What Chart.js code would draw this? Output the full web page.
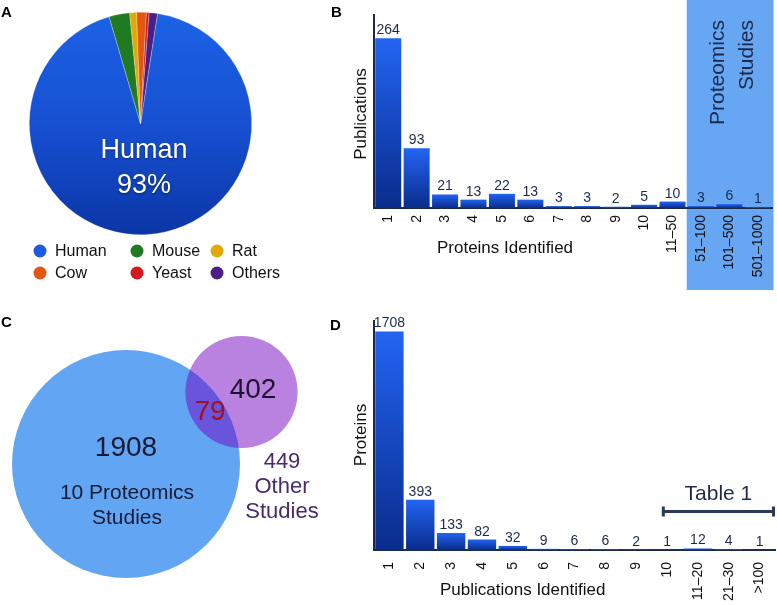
<!DOCTYPE html>
<html><head><meta charset="utf-8">
<script src="https://cdn.jsdelivr.net/npm/chart.js@4/dist/chart.umd.min.js"></script>
<style>
html,body{margin:0;padding:0;background:#fff;}
body{width:777px;height:605px;position:relative;overflow:hidden;}
canvas{position:absolute;}
</style></head>
<body>
<canvas id="cA" width="325" height="300" style="left:0;top:0"></canvas>
<canvas id="cB" width="452" height="300" style="left:325px;top:0"></canvas>
<canvas id="cC" width="325" height="305" style="left:0;top:300px"></canvas>
<canvas id="cD" width="452" height="305" style="left:325px;top:300px"></canvas>
<script>
// ---------- DATA ----------
const species = ['Human','Mouse','Rat','Cow','Yeast','Others'];
const speciesShare = [93, 3.0, 1.0, 1.4, 0.4, 1.2];

const proteinsIdentified = ['1','2','3','4','5','6','7','8','9','10','11\u201350','51\u2013100','101\u2013500','501\u20131000'];
const publicationsCount = [264, 93, 21, 13, 22, 13, 3, 3, 2, 5, 10, 3, 6, 1];
const proteomicsCategories = ['51\u2013100','101\u2013500','501\u20131000'];

const vennSets = ['10 Proteomics Studies', '449 Other Studies'];
const vennOnlyProteomics = 1908;
const vennOverlap = 79;
const vennOnlyOther = 402;

const publicationsIdentified = ['1','2','3','4','5','6','7','8','9','10','11\u201320','21\u201330','>100'];
const proteinsCount = [1708, 393, 133, 82, 32, 9, 6, 6, 2, 1, 12, 4, 1];
const table1Categories = ['10','11\u201320','21\u201330','>100'];

// ---------- STYLE ----------
const FONT = '"Liberation Sans", Arial, Helvetica, sans-serif';
const NAVY = '#1b2a4c';
const speciesColors = ['#1a5be0','#1f7a22','#e2a808','#e2560e','#d4181c','#4a1f86'];

Chart.defaults.font.family = FONT;
Chart.defaults.animation = false;
Chart.defaults.events = [];
Chart.defaults.plugins.legend.display = false;
Chart.defaults.plugins.tooltip.enabled = false;

function panelLabel(ctx, t, x, y){
  ctx.save(); ctx.font = 'bold 15px ' + FONT; ctx.fillStyle = '#000';
  ctx.textAlign = 'left'; ctx.textBaseline = 'alphabetic'; ctx.fillText(t, x, y); ctx.restore();
}
function txt(ctx, t, x, y, font, color, align, rot){
  ctx.save(); ctx.font = font; ctx.fillStyle = color; ctx.textAlign = align || 'center';
  ctx.textBaseline = 'middle'; ctx.translate(x, y); if (rot) ctx.rotate(rot); ctx.fillText(t, 0, 0); ctx.restore();
}

// ---------- PANEL A ----------
new Chart(document.getElementById('cA'), {
  type: 'pie',
  data: { labels: species, datasets: [{
    data: speciesShare,
    backgroundColor: (c) => {
      if (c.dataIndex === 0 && c.chart.chartArea) {
        const a = c.chart.chartArea;
        const g = c.chart.ctx.createLinearGradient(0, a.top, 0, a.bottom);
        g.addColorStop(0, '#1c62e6'); g.addColorStop(0.5, '#1750d2'); g.addColorStop(1, '#0b36a6');
        return g;
      }
      return speciesColors[c.dataIndex];
    },
    borderColor: 'rgba(255,255,255,0.45)', borderWidth: 0.6
  }]},
  options: {
    responsive: false, rotation: 8.8,
    layout: { padding: { left: 29, top: 12, right: 73, bottom: 65 } }
  },
  plugins: [{
    id: 'aText',
    afterDraw(chart){
      const ctx = chart.ctx;
      panelLabel(ctx, 'A', 1, 17);
      ctx.save();
      ctx.shadowColor = 'rgba(0,0,0,0.45)'; ctx.shadowBlur = 2; ctx.shadowOffsetY = 1;
      txt(ctx, species[0], 144, 151, '27px ' + FONT, '#fff');
      txt(ctx, speciesShare[0] + '%', 144, 186, '27px ' + FONT, '#fff');
      ctx.restore();
      const cols = [40, 137, 217], rows = [251, 273];
      species.forEach((s, i) => {
        const x = cols[i % 3], y = rows[Math.floor(i / 3)];
        ctx.save();
        ctx.beginPath(); ctx.arc(x, y, 6.5, 0, Math.PI * 2);
        ctx.fillStyle = speciesColors[i]; ctx.fill(); ctx.restore();
        txt(ctx, s, x + 15, y + 1, '16px ' + FONT, '#111', 'left');
      });
    }
  }]
});

// ---------- shared bar helpers ----------
function barFill(c){
  const chart = c.chart, y = chart.scales.y;
  if (!chart.chartArea || !y) return '#1a50c8';
  const top = y.getPixelForValue(c.raw), base = y.getPixelForValue(0);
  const g = chart.ctx.createLinearGradient(0, top, 0, base);
  g.addColorStop(0, '#2264f2'); g.addColorStop(1, '#0a2c8c');
  return g;
}
const valueLabels = {
  id: 'valueLabels',
  afterDatasetsDraw(chart){
    const ctx = chart.ctx, ds = chart.data.datasets[0];
    chart.getDatasetMeta(0).data.forEach((el, i) => {
      ctx.save(); ctx.font = '14px ' + FONT; ctx.fillStyle = NAVY;
      ctx.textAlign = 'center'; ctx.textBaseline = 'alphabetic';
      ctx.fillText(String(ds.data[i]), el.x, el.y - 4); ctx.restore();
    });
  }
};
function barOptions(yMax, padTop, padRight, yW, xH, tickPad){
  return {
    responsive: false,
    layout: { padding: { top: padTop, right: padRight, left: 0, bottom: 0 } },
    scales: {
      x: {
        grid: { display: false, drawTicks: false },
        border: { display: true, color: NAVY, width: 2 },
        ticks: { minRotation: 90, maxRotation: 90, autoSkip: false, padding: tickPad,
                 font: { size: 14, family: FONT }, color: '#111' },
        afterFit: (s) => { s.height = xH; s.paddingLeft = 0; s.paddingRight = 0; }
      },
      y: {
        min: 0, max: yMax,
        grid: { display: false, drawTicks: false },
        border: { display: true, color: NAVY, width: 2 },
        ticks: { display: false },
        afterFit: (s) => { s.width = yW; s.paddingTop = 0; s.paddingBottom = 0; }
      }
    }
  };
}

// ---------- PANEL B ----------
new Chart(document.getElementById('cB'), {
  type: 'bar',
  data: { labels: proteinsIdentified, datasets: [{
    data: publicationsCount, backgroundColor: barFill,
    barPercentage: 0.915, categoryPercentage: 1
  }]},
  options: barOptions(300, 15, 5, 49, 92, 7),
  plugins: [{
    id: 'bBox',
    beforeDraw(chart){
      const ctx = chart.ctx, x = chart.scales.x, a = chart.chartArea;
      const i0 = proteinsIdentified.indexOf(proteomicsCategories[0]);
      const step = a.width / proteinsIdentified.length;
      const left = x.getPixelForValue(i0) - step / 2;
      ctx.save(); ctx.fillStyle = '#67a6f2';
      ctx.fillRect(left, 0, a.right + 1.5 - left, 290); ctx.restore();
    },
    afterDraw(chart){
      const ctx = chart.ctx;
      panelLabel(ctx, 'B', 6, 17);
      txt(ctx, 'Publications', 36.7, 114, '17px ' + FONT, '#111', 'center', -Math.PI / 2);
      txt(ctx, 'Proteins Identified', 180, 248, '17px ' + FONT, '#111', 'center');
      txt(ctx, 'Proteomics', 393, 20, '21px ' + FONT, NAVY, 'right', -Math.PI / 2);
      txt(ctx, 'Studies', 422, 20, '21px ' + FONT, NAVY, 'right', -Math.PI / 2);
    }
  }, valueLabels]
});

// ---------- PANEL C ----------
const vennK = 2.557; // px per sqrt(count)
const vennLayout = [{ x: 126, y: 164 }, { x: 241.5, y: 92 }];
new Chart(document.getElementById('cC'), {
  type: 'bubble',
  data: { labels: vennSets, datasets: [{
    data: [
      { x: vennLayout[0].x, y: vennLayout[0].y, r: vennK * Math.sqrt(vennOnlyProteomics + vennOverlap) },
      { x: vennLayout[1].x, y: vennLayout[1].y, r: vennK * Math.sqrt(vennOnlyOther + vennOverlap) }
    ],
    backgroundColor: ['#62a5f3', 'rgba(112,0,194,0.49)'],
    borderWidth: 0, clip: false
  }]},
  options: {
    responsive: false,
    layout: { padding: 0, autoPadding: false },
    scales: {
      x: { display: false, min: 0, max: 325 },
      y: { display: false, min: 0, max: 305, reverse: true }
    }
  },
  plugins: [{
    id: 'cText',
    afterDraw(chart){
      const ctx = chart.ctx;
      panelLabel(ctx, 'C', 1, 27);
      const dark = '#141a33';
      txt(ctx, String(vennOnlyProteomics), 126, 148, '28px ' + FONT, dark);
      txt(ctx, '10 Proteomics', 127, 193, '21px ' + FONT, dark);
      txt(ctx, 'Studies', 127, 218, '21px ' + FONT, dark);
      txt(ctx, String(vennOverlap), 210, 112, '28px ' + FONT, '#a3101e');
      txt(ctx, String(vennOnlyOther), 253, 90, '28px ' + FONT, '#1f1030');
      const pur = '#4a2a6c';
      txt(ctx, '449', 282, 162, '22px ' + FONT, pur);
      txt(ctx, 'Other', 282, 187, '22px ' + FONT, pur);
      txt(ctx, 'Studies', 282, 212, '22px ' + FONT, pur);
    }
  }]
});

// ---------- PANEL D ----------
new Chart(document.getElementById('cD'), {
  type: 'bar',
  data: { labels: publicationsIdentified, datasets: [{
    data: proteinsCount, backgroundColor: barFill,
    barPercentage: 0.92, categoryPercentage: 1
  }]},
  options: barOptions(1790, 21, 2, 49, 55, 12),
  plugins: [{
    id: 'dText',
    afterDraw(chart){
      const ctx = chart.ctx, x = chart.scales.x, a = chart.chartArea;
      panelLabel(ctx, 'D', 5, 30);
      txt(ctx, 'Proteins', 36.7, 135, '17px ' + FONT, '#111', 'center', -Math.PI / 2);
      txt(ctx, 'Publications Identified', 197.7, 290, '17px ' + FONT, '#111', 'center');
      const i0 = publicationsIdentified.indexOf(table1Categories[0]);
      const step = a.width / publicationsIdentified.length;
      const left = x.getPixelForValue(i0) - step * 0.17;
      const right = a.right;
      const yb = 211.5;
      ctx.save(); ctx.strokeStyle = '#2b3a58'; ctx.lineWidth = 3;
      ctx.beginPath();
      ctx.moveTo(left, yb); ctx.lineTo(right, yb);
      ctx.moveTo(left + 1.5, yb - 5); ctx.lineTo(left + 1.5, yb + 5);
      ctx.moveTo(right - 1.5, yb - 5); ctx.lineTo(right - 1.5, yb + 5);
      ctx.stroke(); ctx.restore();
      txt(ctx, 'Table 1', (left + right) / 2, 194, '21px ' + FONT, '#1e2b48');
    }
  }, valueLabels]
});
</script>
</body></html>
